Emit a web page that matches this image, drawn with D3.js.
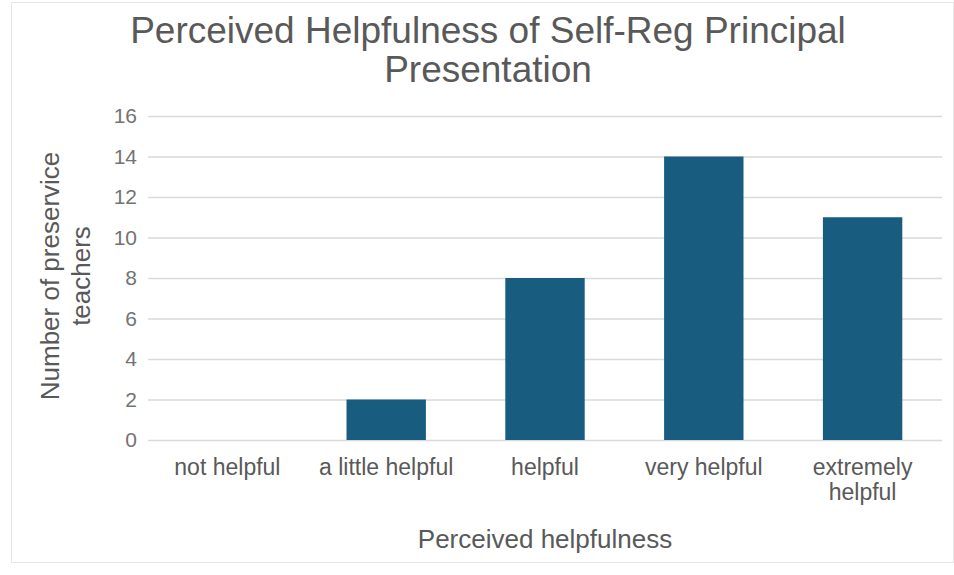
<!DOCTYPE html>
<html>
<head>
<meta charset="utf-8">
<script src="https://cdn.jsdelivr.net/npm/d3@7"></script>
<style>
  html, body { margin: 0; padding: 0; background: #fff; }
  svg { display: block; }
  text { font-family: "Liberation Sans", Arial, sans-serif; }
</style>
</head>
<body>
<svg id="chart" width="954" height="575"></svg>
<script>
// Survey responses: how helpful preservice teachers found the presentation
const categories = ["not helpful", "a little helpful", "helpful", "very helpful", "extremely helpful"];
const categoryLines = [["not helpful"], ["a little helpful"], ["helpful"], ["very helpful"], ["extremely", "helpful"]];
const counts = [0, 2, 8, 14, 11];
const yTicks = [0, 2, 4, 6, 8, 10, 12, 14, 16];
const titleLines = ["Perceived Helpfulness of Self-Reg Principal", "Presentation"];
const yTitleLines = ["Number of preservice", "teachers"];
const xTitle = "Perceived helpfulness";

const svg = d3.select("#chart");
const W = 954, H = 575;
const margin = { left: 148, right: 12, top: 116, bottom: 135 };
const plotW = W - margin.left - margin.right;
const plotH = H - margin.top - margin.bottom;

const textColor = "#595959";
const gridColor = "#d9d9d9";
const barColor = "#185c80";

// Chart frame
svg.append("rect")
  .attr("x", 11.5).attr("y", 2.5)
  .attr("width", W - 12).attr("height", 560)
  .attr("fill", "#fff").attr("stroke", "#e6e6e6");

const g = svg.append("g").attr("transform", `translate(${margin.left},${margin.top})`);

const x = d3.scaleBand().domain(categories).range([0, plotW])
  .paddingInner(0.5).paddingOuter(0.25);
const y = d3.scaleLinear().domain([0, 16]).range([plotH, 0]);

// Horizontal gridlines with value labels
const yAxis = d3.axisLeft(y).tickValues(yTicks).tickSize(-plotW).tickPadding(11).tickFormat(d3.format("d"));
const yg = g.append("g").call(yAxis);
yg.select(".domain").remove();
yg.selectAll(".tick line").attr("stroke", gridColor).attr("stroke-width", 1.3);
yg.selectAll(".tick text")
  .attr("fill", "#737373").style("font-size", "21px");

// Bars
g.selectAll("rect.bar").data(counts).join("rect")
  .attr("class", "bar")
  .attr("x", (d, i) => x(categories[i]))
  .attr("y", d => y(d))
  .attr("width", x.bandwidth())
  .attr("height", d => plotH - y(d))
  .attr("fill", barColor);

// Category labels, wrapped onto separate lines where needed
const xg = g.append("g").attr("transform", `translate(0,${plotH})`);
categories.forEach((c, i) => {
  const t = xg.append("text")
    .attr("x", x(c) + x.bandwidth() / 2)
    .attr("y", 35)
    .attr("text-anchor", "middle")
    .attr("fill", textColor)
    .style("font-size", "23px");
  categoryLines[i].forEach((line, j) => {
    t.append("tspan").attr("x", x(c) + x.bandwidth() / 2).attr("dy", j === 0 ? 0 : 25).text(line);
  });
});

// Axis titles
svg.append("text")
  .attr("x", margin.left + plotW / 2).attr("y", 548)
  .attr("text-anchor", "middle").attr("fill", textColor)
  .style("font-size", "26px").text(xTitle);

const yt = svg.append("text")
  .attr("transform", `translate(59,${margin.top + plotH / 2 - 2}) rotate(-90)`)
  .attr("text-anchor", "middle").attr("fill", textColor)
  .style("font-size", "26px");
yTitleLines.forEach((line, j) => {
  yt.append("tspan").attr("x", 0).attr("dy", j === 0 ? 0 : 31).text(line);
});

// Chart title
const tt = svg.append("text")
  .attr("x", 488).attr("y", 43)
  .attr("text-anchor", "middle").attr("fill", textColor)
  .style("font-size", "37px");
titleLines.forEach((line, j) => {
  tt.append("tspan").attr("x", 488).attr("dy", j === 0 ? 0 : 39).text(line);
});
</script>
</body>
</html>
